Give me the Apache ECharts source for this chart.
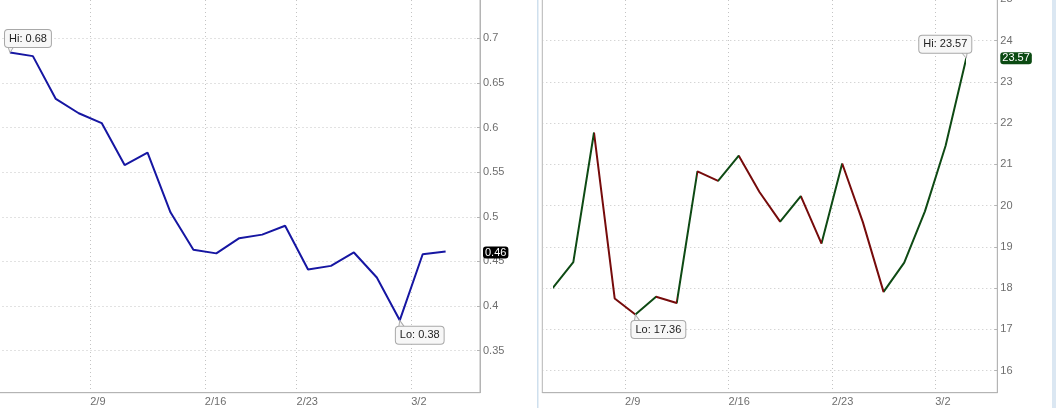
<!DOCTYPE html>
<html>
<head>
<meta charset="utf-8">
<script src="https://cdn.jsdelivr.net/npm/echarts@6/dist/echarts.min.js"></script>
<style>
html,body{margin:0;padding:0;background:#fff;}
#chart{width:1056px;height:408px;}
</style>
</head>
<body>
<div id="chart"></div>
<script>
// ---- data ----
const leftDates = ['2/3','2/4','2/5','2/6','2/9','2/10','2/11','2/12','2/13','2/17','2/18','2/19','2/20','2/23','2/24','2/25','2/26','2/27','3/2','3/3'];
const leftValues = [0.684,0.680,0.632,0.616,0.605,0.558,0.572,0.505,0.463,0.459,0.476,0.480,0.490,0.441,0.445,0.460,0.432,0.384,0.458,0.461];
const rightDates = ['2/3','2/4','2/5','2/6','2/9','2/10','2/11','2/12','2/13','2/16','2/17','2/18','2/19','2/20','2/23','2/24','2/25','2/26','2/27','3/2','3/3'];
const rightValues = [18.00,18.63,21.77,17.75,17.36,17.79,17.64,20.83,20.60,21.21,20.33,19.61,20.23,19.08,21.02,19.60,17.91,18.62,19.86,21.45,23.57];
const tickLabels = ['2/9','2/16','2/23','3/2'];
const YEAR = 2015;

const FONT = '"Liberation Sans", Arial, sans-serif';
const FS = 11;

// ---- helpers ----
function mondayOf(s){
  if(!s) return null;
  const [m,d] = s.split('/').map(Number);
  const dt = new Date(YEAR, m-1, d);
  dt.setDate(dt.getDate() - ((dt.getDay()+6)%7));
  return (dt.getMonth()+1) + '/' + dt.getDate();
}
function boundaries(cats){
  const out = [];
  for(let j=0;j<=cats.length;j++){
    let lab = '';
    if(j>0 && j<cats.length && cats[j] && cats[j-1]){
      const a = mondayOf(cats[j]), b = mondayOf(cats[j-1]);
      if(a!==b && tickLabels.indexOf(a)>=0) lab = a;
    }
    out.push(lab);
  }
  return out;
}
const leftCats = leftDates.concat(['']);
const rightCats = rightDates.concat(['']);

const GRID_STYLE = {color:'#c4c4c4', type:[1,3], width:1};
const AXIS_COLOR = '#b4b4b4';
const LABEL_COLOR = '#6e6e6e';

function mainX(gridIndex, cats){
  return {type:'category', gridIndex, data:cats, boundaryGap:true, show:false};
}
function bndX(gridIndex, cats){
  return {
    type:'category', gridIndex, position:'bottom', data:boundaries(cats), boundaryGap:false,
    axisLine:{show:true, lineStyle:{color:AXIS_COLOR}},
    axisTick:{show:false},
    axisLabel:{interval:0, align:'left', margin:4, color:LABEL_COLOR, fontSize:FS, fontFamily:FONT},
    splitLine:{show:true, interval:function(i,v){return v!=='';}, lineStyle:GRID_STYLE}
  };
}

function calloutLabel(off, prefix){
  return {
    show:true, position:'inside', offset:off,
    color:'#222', fontSize:FS, fontFamily:FONT, lineHeight:13,
    backgroundColor:'#f7f7f7', borderColor:'#a8a8a8', borderWidth:1, borderRadius:3,
    padding:[2,4],
    formatter:function(p){return prefix + p.value.toFixed(2);}
  };
}
function tail(type, path, size, offset){
  return {type:type, symbol:path, symbolSize:size, symbolOffset:offset, symbolKeepAspect:false,
    itemStyle:{color:'#f7f7f7', borderColor:'#a8a8a8', borderWidth:1},
    label:{show:false}};
}
function badge(bg){
  return {show:true, position:'end', distance:3, color:'#fff', fontSize:FS, fontFamily:FONT,
    backgroundColor:bg, borderRadius:3, padding:[1,2,0,2], lineHeight:11,
    formatter:function(p){return p.value.toFixed(2);}};
}
const TAIL_DOWN_L = 'path://M2,6 L0,0 L6,0 Z';
const TAIL_DOWN_R = 'path://M5,6 L0,0 L6,0 Z';
const TAIL_UP_L = 'path://M1,0 L6,7 L0,7 Z';

// visual pieces for up/down segments
const UP = '#0e4a14', DOWN = '#760b0b';
const pieces = [];
for(let k=0;k<rightValues.length-1;k++){
  const col = rightValues[k+1] >= rightValues[k] ? UP : DOWN;
  const p = {lte:k+1, color:col};
  if(k===0) p.gte = 0; else p.gt = k;
  pieces.push(p);
}

const option = {
  animation:false,
  backgroundColor:'#fff',
  textStyle:{fontFamily:FONT},
  grid:[
    {left:-1.5, top:-20, width:481.5, height:412.7, outerBoundsMode:'none', containLabel:false,
      show:true, borderColor:AXIS_COLOR, borderWidth:1},
    {left:542.3, top:-20, width:455, height:412.7, outerBoundsMode:'none', containLabel:false,
      show:true, borderColor:AXIS_COLOR, borderWidth:1}
  ],
  xAxis:[mainX(0,leftCats), bndX(0,leftCats), mainX(1,rightCats), bndX(1,rightCats)],
  yAxis:[
    {type:'value', gridIndex:0, position:'right', min:0.3029, max:0.7653, minInterval:0.05, maxInterval:0.05,
      axisLine:{show:true, lineStyle:{color:AXIS_COLOR}},
      axisTick:{show:true, inside:true, length:3, lineStyle:{color:AXIS_COLOR}},
      axisLabel:{margin:3, color:LABEL_COLOR, fontSize:FS, fontFamily:FONT,
        formatter:function(v){const r=v/0.05; return Math.abs(r-Math.round(r))<1e-6 ? String(+v.toFixed(2)) : '';}},
      splitLine:{show:true, lineStyle:GRID_STYLE}},
    {type:'value', gridIndex:1, position:'right', min:15.467, max:25.465, minInterval:1, maxInterval:1,
      axisLine:{show:true, lineStyle:{color:AXIS_COLOR}},
      axisTick:{show:true, inside:true, length:3, lineStyle:{color:AXIS_COLOR}},
      axisLabel:{margin:3, color:LABEL_COLOR, fontSize:FS, fontFamily:FONT,
        formatter:function(v){return Math.abs(v-Math.round(v))<1e-6 ? String(Math.round(v)) : '';}},
      splitLine:{show:true, lineStyle:GRID_STYLE}}
  ],
  visualMap:{type:'piecewise', show:false, dimension:0, seriesIndex:1, pieces:pieces},
  series:[
    {type:'line', xAxisIndex:0, yAxisIndex:0, data:leftValues, showSymbol:false, symbol:'none',
      lineStyle:{color:'#1616a2', width:2}, itemStyle:{color:'#1616a2'},
      markPoint:{silent:true,
        data:[
          tail('max', TAIL_DOWN_L, [6,6], [1,-3]),
          tail('min', TAIL_UP_L, [6,7], [2,3.5]),
          {type:'max', symbol:'circle', symbolSize:0, label:calloutLabel([18,-14],'Hi: ')},
          {type:'min', symbol:'circle', symbolSize:0, label:calloutLabel([20,15],'Lo: ')}
        ]},
      markLine:{symbol:'none', silent:true, lineStyle:{color:'rgba(0,0,0,0)', width:1},
        data:[{yAxis:leftValues[leftValues.length-1], label:badge('#000')}]}
    },
    {type:'line', xAxisIndex:2, yAxisIndex:1, data:rightValues, showSymbol:false, symbol:'none',
      lineStyle:{width:2},
      markPoint:{silent:true,
        data:[
          tail('max', TAIL_DOWN_R, [6,6], [-2,-3]),
          tail('min', TAIL_UP_L, [6,7], [2,3.5]),
          {type:'max', symbol:'circle', symbolSize:0, label:calloutLabel([-21,-14],'Hi: ')},
          {type:'min', symbol:'circle', symbolSize:0, label:calloutLabel([23,15],'Lo: ')}
        ]},
      markLine:{symbol:'none', silent:true, lineStyle:{color:'rgba(0,0,0,0)', width:1},
        data:[{yAxis:rightValues[rightValues.length-1], label:badge('#0b4a12')}]}
    }
  ],
  graphic:[
    {type:'rect', shape:{x:537, y:0, width:1.5, height:408}, style:{fill:'#cfe0ee'}, silent:true},
    {type:'rect', shape:{x:1052, y:0, width:4, height:408}, style:{fill:'#dbe7f2'}, silent:true}
  ]
};

const chart = echarts.init(document.getElementById('chart'), null, {renderer:'canvas'});
chart.setOption(option);
</script>
</body>
</html>
